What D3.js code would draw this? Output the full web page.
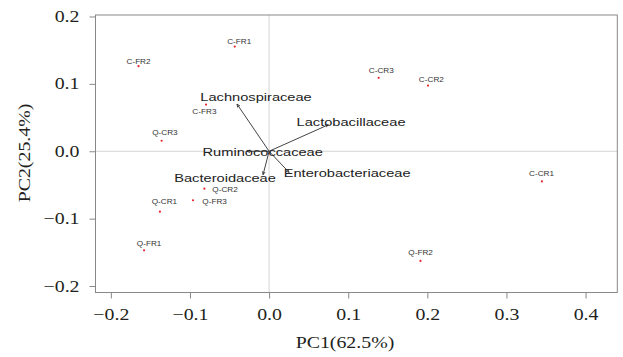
<!DOCTYPE html>
<html>
<head>
<meta charset="utf-8">
<script src="https://cdn.jsdelivr.net/npm/d3@7"></script>
<style>
  body { margin: 0; background: #fff; }
  svg { display: block; }
</style>
</head>
<body>
<div id="chart"></div>
<script>
// sample scores
const sampleNames = ['C-FR1','C-FR2','C-FR3','C-CR1','C-CR2','C-CR3','Q-FR1','Q-FR2','Q-FR3','Q-CR1','Q-CR2','Q-CR3'];
const pc1 = [-0.0434,-0.165,-0.0797,0.3448,0.2009,0.1385,-0.158,0.1913,-0.0962,-0.138,-0.0818,-0.1358];
const pc2 = [0.1553,0.1262,0.0693,-0.0447,0.0975,0.1089,-0.147,-0.1627,-0.0727,-0.0896,-0.0556,0.0156];

// taxa loadings (arrows)
const taxa = ['Lachnospiraceae','Lactobacillaceae','Ruminococcaceae','Enterobacteriaceae','Bacteroidaceae'];
const load1 = [-0.0405,0.0749,-0.028,0.0253,-0.0076];
const load2 = [0.0699,0.0393,0,-0.0314,-0.0348];

const xTicks = [-0.2,-0.1,0,0.1,0.2,0.3,0.4];
const yTicks = [-0.2,-0.1,0,0.1,0.2];

const W = 623, H = 357;
const padL = 95.5, padR = 617.3, padT = 15, padB = 292.5;
const STRETCH = 1.24; // the original figure is squashed sideways, text comes out wide

const svg = d3.select('#chart').append('svg')
    .attr('width', W).attr('height', H);

const x = d3.scaleLinear().domain([-0.2194, 0.4401]).range([padL, padR]);
const y = d3.scaleLinear().domain([-0.2096, 0.2022]).range([padB, padT]);

function stretch(sel){
    sel.each(function(){
        const len = this.getComputedTextLength();
        d3.select(this).attr('textLength', len*STRETCH).attr('lengthAdjust','spacingAndGlyphs');
    });
}

// zero lines
svg.append('line')
    .attr('x1', x(0)).attr('x2', x(0)).attr('y1', padT).attr('y2', padB)
    .style('stroke','#d4d4d4').style('stroke-width',1);
svg.append('line')
    .attr('x1', padL).attr('x2', padR).attr('y1', y(0)).attr('y2', y(0))
    .style('stroke','#d4d4d4').style('stroke-width',1);

// axes
const fmt = d => d3.format('.1f')(d).replace('-','\u2212');
const xAxis = svg.append('g')
    .attr('transform', `translate(0,${padB})`)
    .call(d3.axisBottom(x).tickValues(xTicks).tickFormat(fmt).tickSize(6).tickPadding(10).tickSizeOuter(0));
const yAxis = svg.append('g')
    .attr('transform', `translate(${padL},0)`)
    .call(d3.axisLeft(y).tickValues(yTicks).tickFormat(fmt).tickSize(6).tickPadding(10).tickSizeOuter(0));

[xAxis, yAxis].forEach(g => {
    g.select('.domain').remove();
    g.selectAll('line').style('stroke','#888');
    g.selectAll('text')
        .style('font-family','"Liberation Serif", "Times New Roman", serif')
        .style('font-size','16px')
        .style('fill','#231f20')
        .call(stretch);
});
xAxis.selectAll('text').attr('dy','0.72em');

// frame
svg.append('rect')
    .attr('x', padL).attr('y', padT)
    .attr('width', padR-padL).attr('height', padB-padT)
    .style('fill','none').style('stroke','#888').style('stroke-width',1);

// axis titles
svg.append('text')
    .attr('x', 345).attr('y', 348)
    .attr('text-anchor','middle')
    .style('font-family','"Liberation Serif", "Times New Roman", serif')
    .style('font-size','16px').style('fill','#231f20')
    .text('PC1(62.5%)')
    .call(stretch);
svg.append('text')
    .attr('transform', 'translate(29.5,153) rotate(-90)')
    .attr('text-anchor','middle')
    .style('font-family','"Liberation Serif", "Times New Roman", serif')
    .style('font-size','16px').style('fill','#231f20')
    .text('PC2(25.4%)')
    .call(stretch);

// arrows
svg.append('defs').append('marker')
    .attr('id','head')
    .attr('viewBox','0 0 10 10')
    .attr('refX',9).attr('refY',5)
    .attr('markerWidth',4).attr('markerHeight',4)
    .attr('markerUnits','userSpaceOnUse')
    .attr('orient','auto')
    .append('path')
    .attr('d','M1,1.5 L9,5 L1,8.5')
    .style('fill','none').style('stroke','#333').style('stroke-width',2);

const loadings = taxa.map((t,i) => ({name:t, a:load1[i], b:load2[i]}));

svg.selectAll('.arrow')
    .data(loadings)
    .enter().append('line').attr('class','arrow')
    .attr('x1', x(0)).attr('y1', y(0))
    .attr('x2', d => x(d.a)).attr('y2', d => y(d.b))
    .style('stroke','#444').style('stroke-width',1)
    .attr('marker-end','url(#head)');

// where each taxon name sits relative to its arrow tip (px)
const taxonNudge = {
    'Lachnospiraceae':[19,-3.3],
    'Lactobacillaceae':[22.7,1.5],
    'Ruminococcaceae':[15.8,4.5],
    'Enterobacteriaceae':[58,4.8],
    'Bacteroidaceae':[-38,7.5]
};

svg.selectAll('.taxon')
    .data(loadings)
    .enter().append('text').attr('class','taxon')
    .attr('x', d => x(d.a) + taxonNudge[d.name][0])
    .attr('y', d => y(d.b) + taxonNudge[d.name][1])
    .attr('text-anchor','middle')
    .style('font-family','"Liberation Sans", Arial, sans-serif')
    .style('font-size','11.8px').style('fill','#222')
    .text(d => d.name)
    .call(stretch);

// sample points
const samples = sampleNames.map((s,i) => ({name:s, a:pc1[i], b:pc2[i]}));

svg.selectAll('.pt')
    .data(samples)
    .enter().append('circle').attr('class','pt')
    .attr('cx', d => x(d.a)).attr('cy', d => y(d.b))
    .attr('r', 1.1)
    .style('fill','#e8262b');

const sampleNudge = {
    'C-FR1':[4.5,-2.7,'middle'],
    'C-FR2':[0,-1.8,'middle'],
    'C-FR3':[-1.6,9.3,'middle'],
    'C-CR1':[-0.4,-5,'middle'],
    'C-CR2':[3.3,-4,'middle'],
    'C-CR3':[2.6,-4.7,'middle'],
    'Q-FR1':[5,-4.7,'middle'],
    'Q-FR2':[0.2,-6,'middle'],
    'Q-FR3':[9.4,4,'start'],
    'Q-CR1':[4.5,-7.3,'middle'],
    'Q-CR2':[8,3.3,'start'],
    'Q-CR3':[3.3,-5.3,'middle']
};

svg.selectAll('.plab')
    .data(samples)
    .enter().append('text').attr('class','plab')
    .attr('x', d => x(d.a) + sampleNudge[d.name][0])
    .attr('y', d => y(d.b) + sampleNudge[d.name][1])
    .attr('text-anchor', d => sampleNudge[d.name][2])
    .style('font-family','"Liberation Sans", Arial, sans-serif')
    .style('font-size','6.6px').style('fill','#333')
    .text(d => d.name)
    .call(stretch);
</script>
</body>
</html>
